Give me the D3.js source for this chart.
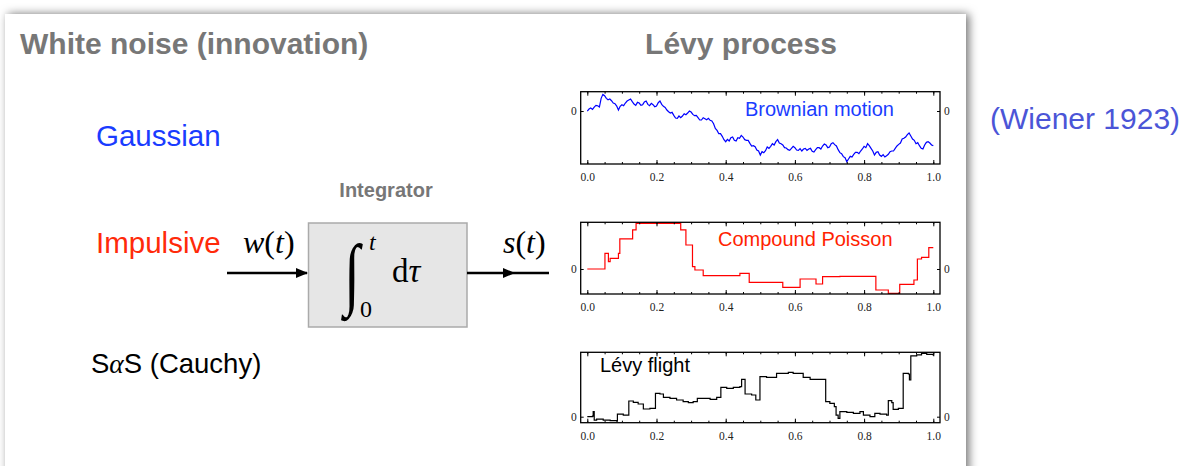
<!DOCTYPE html>
<html>
<head>
<meta charset="utf-8">
<script src="https://cdn.jsdelivr.net/npm/d3@7"></script>
<style>
  body { margin: 0; background: #fff; }
  svg { display: block; }
</style>
</head>
<body>
<div id="chart"></div>
<script>
// x positions shared by the three panels
const tickValues = [0, 0.2, 0.4, 0.6, 0.8, 1.0];
const minorTicks = d3.range(0, 1.0001, 0.05);

// Brownian motion, sampled every 0.005
const brownT = d3.range(0, 1.0001, 0.005);
const brownV = [0.00, 0.06, 0.09, 0.05, 0.12, 0.17, 0.16, 0.12, 0.38, 0.50, 0.46, 0.38, 0.34, 0.36,
  0.31, 0.24, 0.22, 0.15, 0.03, 0.14, 0.19, 0.16, 0.24, 0.30, 0.33, 0.36, 0.28, 0.21, 0.17, 0.26,
  0.24, 0.17, 0.19, 0.27, 0.30, 0.20, 0.16, 0.23, 0.19, 0.13, 0.15, 0.25, 0.30, 0.20, 0.14, 0.11,
  0.03, -0.02, -0.06, -0.04, -0.13, -0.21, -0.22, -0.15, -0.20, -0.15, -0.08, -0.11, -0.06, 0.00,
  -0.03, -0.10, -0.14, -0.13, -0.20, -0.27, -0.27, -0.20, -0.23, -0.26, -0.22, -0.28, -0.30, -0.38,
  -0.52, -0.58, -0.68, -0.68, -0.76, -0.86, -0.92, -0.85, -0.90, -0.80, -0.78, -0.88, -0.90, -0.80,
  -0.82, -0.73, -0.78, -0.86, -0.88, -0.88, -0.97, -1.05, -1.04, -1.07, -1.17, -1.20, -1.32, -1.22,
  -1.25, -1.19, -1.08, -1.12, -1.06, -0.98, -1.02, -0.92, -0.86, -0.96, -0.98, -1.02, -1.10, -1.11,
  -1.16, -1.18, -1.12, -1.06, -1.10, -1.17, -1.18, -1.13, -1.20, -1.14, -1.12, -1.18, -1.14, -1.12,
  -1.21, -1.23, -1.16, -1.10, -1.10, -1.14, -1.05, -0.99, -1.02, -1.10, -1.08, -0.98, -0.95, -1.01,
  -1.05, -1.16, -1.25, -1.28, -1.37, -1.40, -1.52, -1.44, -1.36, -1.38, -1.30, -1.24, -1.24, -1.28,
  -1.20, -1.14, -1.06, -1.10, -0.98, -1.04, -1.12, -1.20, -1.32, -1.24, -1.22, -1.32, -1.36, -1.31,
  -1.38, -1.34, -1.30, -1.22, -1.20, -1.20, -1.12, -1.05, -1.00, -0.96, -0.84, -0.82, -0.78, -0.71,
  -0.66, -0.75, -0.84, -0.88, -0.98, -0.95, -1.04, -1.12, -1.14, -1.02, -0.94, -0.92, -0.96, -1.02,
  -1.04];

// compound Poisson: jump times and levels held until next jump
const poissonT = [0, 0.051, 0.061, 0.066, 0.09, 0.094, 0.131, 0.141, 0.27, 0.285, 0.304, 0.311,
  0.335, 0.441, 0.468, 0.565, 0.615, 0.661, 0.68, 0.73, 0.834, 0.87, 0.903, 0.944, 0.954,
  0.966, 0.987, 1.0];
const poissonV = [0, 0.47, 0.22, 0.32, 0.47, 0.90, 1.17, 1.37, 1.17, 0.72, 0.07, -0.03,
  -0.20, -0.13, -0.40, -0.55, -0.30, -0.45, -0.23, -0.22, -0.63, -0.73, -0.46, -0.33, 0.30,
  0.35, 0.64, 0.64];

// Lévy flight (Cauchy increments)
const levyT = [0, 0.015, 0.017, 0.02, 0.027, 0.046, 0.066, 0.085, 0.087, 0.104, 0.12, 0.133,
  0.147, 0.162, 0.181, 0.197, 0.21, 0.22, 0.239, 0.258, 0.277, 0.292, 0.306, 0.318, 0.335,
  0.355, 0.374, 0.386, 0.403, 0.422, 0.441, 0.446, 0.456, 0.475, 0.487, 0.499, 0.518, 0.538,
  0.547, 0.566, 0.581, 0.595, 0.615, 0.624, 0.644, 0.663, 0.689, 0.701, 0.714, 0.719, 0.725,
  0.73, 0.75, 0.769, 0.788, 0.798, 0.817, 0.831, 0.846, 0.865, 0.87, 0.88, 0.884, 0.899,
  0.913, 0.928, 0.931, 0.935, 0.952, 0.966, 0.981, 1.0];
const levyV = [0, 0.02, 0.15, -0.10, -0.07, -0.10, -0.12, -0.13, 0.08, 0.05, 0.47, 0.43,
  0.38, 0.23, 0.25, 0.70, 0.68, 0.58, 0.55, 0.50, 0.45, 0.42, 0.45, 0.55, 0.55,
  0.52, 0.58, 0.88, 0.85, 0.88, 0.90, 1.12, 0.68, 0.65, 0.50, 1.20, 1.18, 1.18,
  1.30, 1.30, 1.33, 1.30, 1.30, 1.18, 1.12, 1.12, 0.45, 0.40, 0.30, 0.05, -0.05,
  0.15, 0.13, 0.10, 0.15, 0.05, 0.00, 0.10, 0.08, 0.05, 0.48, 0.42, 0.22, 0.25,
  1.30, 1.28, 1.10, 1.82, 1.85, 1.90, 1.87, 1.83];

const W = 1194, H = 466;
const svg = d3.select("#chart").append("svg")
  .attr("width", W).attr("height", H);

// slide panel with soft shadow
const defs = svg.append("defs");
const f = defs.append("filter").attr("id", "shadow")
  .attr("x", "-5%").attr("y", "-10%").attr("width", "110%").attr("height", "120%");
f.append("feDropShadow").attr("dx", 3).attr("dy", 0)
  .attr("stdDeviation", 5).attr("flood-color", "#000").attr("flood-opacity", 0.55);

svg.append("rect").attr("x", 5).attr("y", 14).attr("width", 961).attr("height", 490)
  .attr("fill", "#fff").attr("filter", "url(#shadow)");

const sans = "'Liberation Sans', Helvetica, Arial, sans-serif";
const serif = "'Liberation Serif', 'Times New Roman', serif";

function label(x, y, txt, size, color, weight, anchor) {
  return svg.append("text").attr("x", x).attr("y", y).text(txt)
    .attr("font-family", sans).attr("font-size", size)
    .attr("font-weight", weight || "normal")
    .attr("fill", color).attr("text-anchor", anchor || "start");
}

// headings
label(20, 54, "White noise (innovation)", 30, "#777", "bold");
label(741, 54, "Lévy process", 30, "#777", "bold", "middle");
label(96, 146, "Gaussian", 29.5, "#1a3cff");
label(96, 253, "Impulsive", 29.5, "#ff2a0a");
const sas = label(91, 373, "S", 27.5, "#000");
sas.append("tspan").attr("font-family", serif).attr("font-style", "italic").text("α");
sas.append("tspan").text("S (Cauchy)");
label(990, 129, "(Wiener 1923)", 30, "#4b55d7");
label(386, 197, "Integrator", 20, "#777", "bold", "middle");

// integrator block
svg.append("rect").attr("x", 308.5).attr("y", 223).attr("width", 158.5).attr("height", 104)
  .attr("fill", "#e6e6e6").attr("stroke", "#aaa").attr("stroke-width", 1.5);

function arrow(x0, x1, tip) {
  svg.append("line").attr("x1", x0).attr("x2", x1).attr("y1", 273).attr("y2", 273)
    .attr("stroke", "#000").attr("stroke-width", 2.6);
  svg.append("path")
    .attr("d", d3.line()([[tip - 12, 268], [tip, 273], [tip - 12, 278]]) + "Z")
    .attr("fill", "#000");
}
arrow(227, 307, 308);
arrow(467, 549, 515);

function math(x, y, txt, size, italic) {
  return svg.append("text").attr("x", x).attr("y", y).text(txt)
    .attr("font-family", serif).attr("font-size", size)
    .attr("font-style", italic ? "italic" : "normal").attr("fill", "#000");
}
function fn(x, name) {
  const t = math(x, 253, "", 32, false);
  t.append("tspan").attr("font-style", "italic").text(name);
  t.append("tspan").text("(");
  t.append("tspan").attr("font-style", "italic").text("t");
  t.append("tspan").text(")");
}
fn(243, "w");
fn(503, "s");

math(344, 300, "∫", 80, true).attr("transform", "translate(344,300) scale(0.72,1) translate(-344,-300)");
math(369, 250, "t", 24, true);
math(360, 317, "0", 24, false);
const dt = math(392, 282, "d", 33, false);
dt.append("tspan").attr("font-style", "italic").text("τ");

// three process panels
const panels = [
  { top: 91.7, bottom: 164, domain: [-1.59, 0.58], t: brownT, v: brownV, color: "#0000ff",
    step: false, name: "Brownian motion", nameColor: "#1a3cff", nx: 745, ny: 116 },
  { top: 222.3, bottom: 294, domain: [-0.75, 1.40], t: poissonT, v: poissonV, color: "#ff0000",
    step: true, name: "Compound Poisson", nameColor: "#ff2200", nx: 718, ny: 246 },
  { top: 352.3, bottom: 422.7, domain: [-0.18, 1.93], t: levyT, v: levyV, color: "#000",
    step: true, name: "Lévy flight", nameColor: "#000", nx: 600, ny: 372 }
];

const x = d3.scaleLinear().domain([0, 1]).range([587.3, 933.3]);
const left = 580.7, right = 940;

panels.forEach(p => {
  const y = d3.scaleLinear().domain(p.domain).range([p.bottom, p.top]);
  const g = svg.append("g");
  const pts = p.t.map((t, i) => [t, p.v[i]]);

  g.append("path").datum(pts)
    .attr("fill", "none").attr("stroke", p.color).attr("stroke-width", 1.2)
    .attr("d", d3.line().x(d => x(d[0])).y(d => y(d[1]))
      .curve(p.step ? d3.curveStepAfter : d3.curveLinear));

  // bottom axis with labels, inward ticks
  const bx = g.append("g").attr("transform", `translate(0,${p.bottom})`)
    .call(d3.axisBottom(x).tickValues(tickValues).tickSizeInner(-4).tickSizeOuter(0)
      .tickPadding(9).tickFormat(d3.format(".1f")));
  bx.select(".domain").remove();
  bx.selectAll("text").attr("font-family", serif).attr("font-size", 11.5).attr("fill", "#222");
  g.append("g").attr("transform", `translate(0,${p.bottom})`)
    .call(d3.axisBottom(x).tickValues(minorTicks).tickSizeInner(-2).tickSizeOuter(0).tickFormat(""))
    .select(".domain").remove();
  g.append("g").attr("transform", `translate(0,${p.top})`)
    .call(d3.axisTop(x).tickValues(tickValues).tickSizeInner(-4).tickSizeOuter(0).tickFormat(""))
    .select(".domain").remove();
  g.append("g").attr("transform", `translate(0,${p.top})`)
    .call(d3.axisTop(x).tickValues(minorTicks).tickSizeInner(-2).tickSizeOuter(0).tickFormat(""))
    .select(".domain").remove();

  // zero ticks on both sides
  [[d3.axisLeft, left], [d3.axisRight, right]].forEach(([ax, xPos]) => {
    const a = g.append("g").attr("transform", `translate(${xPos},0)`)
      .call(ax(y).tickValues([0]).tickSizeInner(-3).tickSizeOuter(0).tickPadding(4)
        .tickFormat(d3.format("d")));
    a.select(".domain").remove();
    a.selectAll("text").attr("font-family", serif).attr("font-size", 11.5).attr("fill", "#222");
  });

  g.append("rect").attr("x", left).attr("y", p.top)
    .attr("width", right - left).attr("height", p.bottom - p.top)
    .attr("fill", "none").attr("stroke", "#000").attr("stroke-width", 1.3);

  label(p.nx, p.ny, p.name, 20, p.nameColor);
});
</script>
</body>
</html>
